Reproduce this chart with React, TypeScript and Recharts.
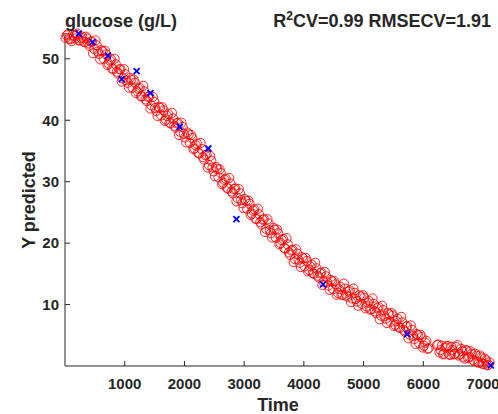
import { ScatterChart, Scatter, XAxis, YAxis } from 'recharts';

// calibration (cross-validated) predictions, red circles - first pass of samples
const calTimeA = [
  10, 50, 90, 130, 170, 210, 250, 290, 330, 370, 410, 450, 490, 530, 570, 610, 650, 690, 730, 770,
  810, 850, 890, 930, 970, 1010, 1050, 1090, 1130, 1170, 1210, 1250, 1290, 1330, 1370, 1410, 1450, 1490, 1530, 1570,
  1610, 1650, 1690, 1730, 1770, 1810, 1850, 1890, 1930, 1970, 2010, 2050, 2090, 2130, 2170, 2210, 2250, 2290, 2330, 2370,
  2410, 2450, 2490, 2530, 2570, 2610, 2650, 2690, 2730, 2770, 2810, 2850, 2890, 2930, 2970, 3010, 3050, 3090, 3130, 3170,
  3210, 3250, 3290, 3330, 3370, 3410, 3450, 3490, 3530, 3570, 3610, 3650, 3690, 3730, 3770, 3810, 3850, 3890, 3930, 3970,
  4010, 4050, 4090, 4130, 4170, 4210, 4250, 4290, 4330, 4370, 4410, 4450, 4490, 4530, 4570, 4610, 4650, 4690, 4730, 4770,
  4810, 4850, 4890, 4930, 4970, 5010, 5050, 5090, 5130, 5170, 5210, 5250, 5290, 5330, 5370, 5410, 5450, 5490, 5530, 5570,
  5610, 5650, 5690, 5730, 5770, 5810, 5850, 5890, 5930, 5970, 6010, 6050, 6090,
  6230, 6270, 6310, 6350, 6390, 6430, 6470, 6510, 6550, 6590, 6630, 6670, 6710, 6750, 6790, 6830, 6870, 6910, 6950, 6990,
  7030, 7070, 7110,
];
const calPredA = [
  53.4, 54.0, 53.2, 53.9, 53.3, 54.1, 53.0, 53.6, 52.7, 53.3, 52.1, 52.8, 51.6, 52.2, 50.8, 51.4, 50.0, 50.7, 49.2, 49.9,
  48.3, 49.1, 47.6, 48.3, 46.8, 47.5, 46.1, 46.9, 45.3, 46.1, 44.7, 45.3, 43.9, 44.7, 43.1, 43.9, 42.4, 43.0, 41.5, 42.2,
  40.8, 41.6, 40.1, 41.0, 39.5, 40.3, 38.8, 39.6, 38.1, 38.9, 37.2, 38.0, 36.3, 37.1, 35.4, 36.2, 34.6, 35.3, 33.6, 34.4,
  32.7, 33.4, 31.7, 32.4, 30.7, 31.4, 29.8, 30.5, 28.9, 29.7, 28.1, 28.9, 27.3, 28.1, 26.5, 27.2, 25.6, 26.4, 24.8, 25.5,
  23.9, 24.7, 23.0, 23.9, 22.3, 23.2, 21.6, 22.5, 20.9, 21.6, 20.0, 20.7, 19.1, 19.8, 18.1, 18.9, 17.4, 18.3, 16.8, 17.7,
  16.2, 17.1, 15.6, 16.5, 15.0, 15.9, 14.4, 15.2, 13.7, 14.6, 13.1, 14.0, 12.5, 13.3, 11.9, 12.9, 11.6, 12.6, 11.3, 12.3,
  11.0, 11.9, 10.5, 11.5, 10.1, 11.1, 9.7, 10.6, 9.2, 10.1, 8.6, 9.6, 8.2, 9.1, 7.7, 8.6, 7.2, 8.2, 6.7, 7.7,
  6.2, 7.1, 5.6, 6.5, 5.1, 5.9, 4.4, 5.2, 3.7, 4.7, 3.3, 4.1, 2.9,
  3.4, 2.2, 3.3, 2.0, 3.2, 1.9, 3.1, 1.9, 3.1, 1.7, 2.8, 1.5, 2.6, 1.3, 2.4, 1.0, 2.0, 0.7, 1.7, 0.4,
  1.2, 0.1, 0.6,
];

// calibration predictions, red circles - second pass of samples
const calTimeB = [
  30, 70, 110, 150, 190, 230, 270, 310, 350, 390, 430, 470, 510, 550, 590, 630, 670, 710, 750, 790,
  830, 870, 910, 950, 990, 1030, 1070, 1110, 1150, 1190, 1230, 1270, 1310, 1350, 1390, 1430, 1470, 1510, 1550, 1590,
  1630, 1670, 1710, 1750, 1790, 1830, 1870, 1910, 1950, 1990, 2030, 2070, 2110, 2150, 2190, 2230, 2270, 2310, 2350, 2390,
  2430, 2470, 2510, 2550, 2590, 2630, 2670, 2710, 2750, 2790, 2830, 2870, 2910, 2950, 2990, 3030, 3070, 3110, 3150, 3190,
  3230, 3270, 3310, 3350, 3390, 3430, 3470, 3510, 3550, 3590, 3630, 3670, 3710, 3750, 3790, 3830, 3870, 3910, 3950, 3990,
  4030, 4070, 4110, 4150, 4190, 4230, 4270, 4310, 4350, 4390, 4430, 4470, 4510, 4550, 4590, 4630, 4670, 4710, 4750, 4790,
  4830, 4870, 4910, 4950, 4990, 5030, 5070, 5110, 5150, 5190, 5230, 5270, 5310, 5350, 5390, 5430, 5470, 5510, 5550, 5590,
  5630, 5670, 5710, 5750, 5790, 5830, 5870, 5910, 5950, 5990, 6030, 6070,
  6250, 6290, 6330, 6370, 6410, 6450, 6490, 6530, 6570, 6610, 6650, 6690, 6730, 6770, 6810, 6850, 6890, 6930, 6970, 7010,
  7050, 7090,
];
const calPredB = [
  53.8, 53.3, 52.9, 53.7, 53.9, 53.0, 53.4, 52.8, 53.6, 52.5, 52.8, 50.9, 53.0, 51.2, 49.9, 51.2, 51.3, 49.0, 49.7, 48.4,
  50.0, 47.9, 48.3, 46.3, 48.3, 46.5, 45.3, 46.6, 46.6, 44.4, 45.1, 43.9, 45.6, 43.4, 43.8, 41.9, 43.8, 42.0, 40.7, 42.0,
  42.1, 39.9, 40.7, 39.6, 41.2, 39.1, 39.5, 37.6, 39.6, 37.8, 36.4, 37.7, 37.6, 35.3, 35.9, 34.7, 36.3, 34.0, 34.3, 32.3,
  34.2, 32.3, 30.9, 32.1, 32.0, 29.6, 30.3, 29.0, 30.6, 28.4, 28.8, 26.8, 28.8, 27.0, 25.7, 26.9, 26.9, 24.6, 25.3, 24.0,
  25.6, 23.4, 23.8, 21.8, 23.9, 22.1, 20.9, 22.2, 22.2, 19.8, 20.5, 19.2, 20.8, 18.5, 18.8, 16.9, 19.0, 17.3, 16.1, 17.5,
  17.6, 15.4, 16.2, 15.1, 16.8, 14.7, 15.1, 13.2, 15.3, 13.6, 12.4, 13.8, 13.8, 11.6, 12.5, 11.6, 13.4, 11.5, 12.1, 10.4,
  12.6, 10.9, 9.8, 11.3, 11.5, 9.4, 10.3, 9.2, 11.0, 8.9, 9.4, 7.6, 9.8, 8.1, 7.0, 8.4, 8.6, 6.5, 7.3, 6.3,
  8.0, 5.9, 6.4, 4.5, 6.6, 4.9, 3.6, 5.0, 5.1, 3.0, 3.8, 2.8,
  3.5, 2.6, 1.9, 3.0, 3.3, 1.8, 2.6, 2.0, 3.4, 1.9, 2.4, 1.2, 2.5, 1.5, 2.0, 0.8, 1.7, 0.5, 1.4, 0.3,
  0.9, 0.2,
];

// test set predictions, blue crosses
const testTime = [230, 460, 720, 950, 1200, 1430, 1920, 2400, 2870, 4320, 5730, 7130];
const testPred = [54.1, 52.7, 50.5, 46.7, 48.0, 44.4, 38.9, 35.4, 23.9, 13.3, 5.2, 0.1];

const xTicks = [1000, 2000, 3000, 4000, 5000, 6000, 7000];
const yTicks = [10, 20, 30, 40, 50];

const calData = [
  ...calTimeA.map((t, i) => ({ t, y: calPredA[i] })),
  ...calTimeB.map((t, i) => ({ t, y: calPredB[i] })),
];
const testData = testTime.map((t, i) => ({ t, y: testPred[i] }));

const ink = '#262626';
const font = '"Liberation Sans", Arial, sans-serif';
const tickStyle = { fill: ink, fontSize: 15, fontWeight: 700, fontFamily: font };

const RedCircle = (p: any) => (
  <circle cx={p.cx} cy={p.cy} r={4.6} fill="none" stroke="#FF0000" strokeWidth={0.85} />
);

const BlueCross = (p: any) => (
  <g stroke="#0000FF" strokeWidth={1.8}>
    <line x1={p.cx - 3} y1={p.cy - 3} x2={p.cx + 3} y2={p.cy + 3} />
    <line x1={p.cx - 3} y1={p.cy + 3} x2={p.cx + 3} y2={p.cy - 3} />
  </g>
);

export default function App() {
  return (
    <div style={{ position: 'absolute', left: 0, top: 0, width: 498, height: 414, background: '#fff' }}>
      <ScatterChart width={498} height={414} margin={{ top: 33, right: 6, bottom: 18, left: 5 }}>
        <XAxis
          type="number"
          dataKey="t"
          domain={[0, 7150]}
          ticks={xTicks}
          height={30}
          tick={tickStyle}
          tickSize={-5}
          tickMargin={17}
          axisLine={{ stroke: ink }}
          tickLine={{ stroke: ink }}
        />
        <XAxis
          xAxisId="top"
          orientation="top"
          type="number"
          dataKey="t"
          domain={[0, 7150]}
          ticks={xTicks}
          height={0}
          tick={false}
          tickSize={-5}
          axisLine={{ stroke: ink }}
          tickLine={{ stroke: ink }}
        />
        <YAxis
          type="number"
          dataKey="y"
          domain={[0, 54.2]}
          ticks={yTicks}
          width={60}
          tick={tickStyle}
          tickSize={-5}
          tickMargin={11}
          axisLine={{ stroke: ink }}
          tickLine={{ stroke: ink }}
        />
        <YAxis
          yAxisId="right"
          orientation="right"
          type="number"
          dataKey="y"
          domain={[0, 54.2]}
          ticks={yTicks}
          width={0}
          tick={false}
          tickSize={-5}
          axisLine={{ stroke: ink }}
          tickLine={{ stroke: ink }}
        />
        <Scatter data={calData} shape={RedCircle} isAnimationActive={false} />
        <Scatter data={testData} shape={BlueCross} isAnimationActive={false} />
      </ScatterChart>
      <svg
        width={498}
        height={414}
        style={{ position: 'absolute', left: 0, top: 0, pointerEvents: 'none' }}
        fontFamily={font}
        fontWeight={700}
        fill={ink}
      >
        <text x={65} y={27} fontSize={18}>glucose (g/L)</text>
        <text x={491} y={27} fontSize={18} textAnchor="end">
          R<tspan fontSize={12} dy={-7}>2</tspan>
          <tspan dy={7}>CV=0.99 RMSECV=1.91</tspan>
        </text>
        <text x={278} y={411} fontSize={18} textAnchor="middle">Time</text>
        <text x={35} y={200} fontSize={18} textAnchor="middle" transform="rotate(-90 35 200)">Y predicted</text>
      </svg>
    </div>
  );
}
